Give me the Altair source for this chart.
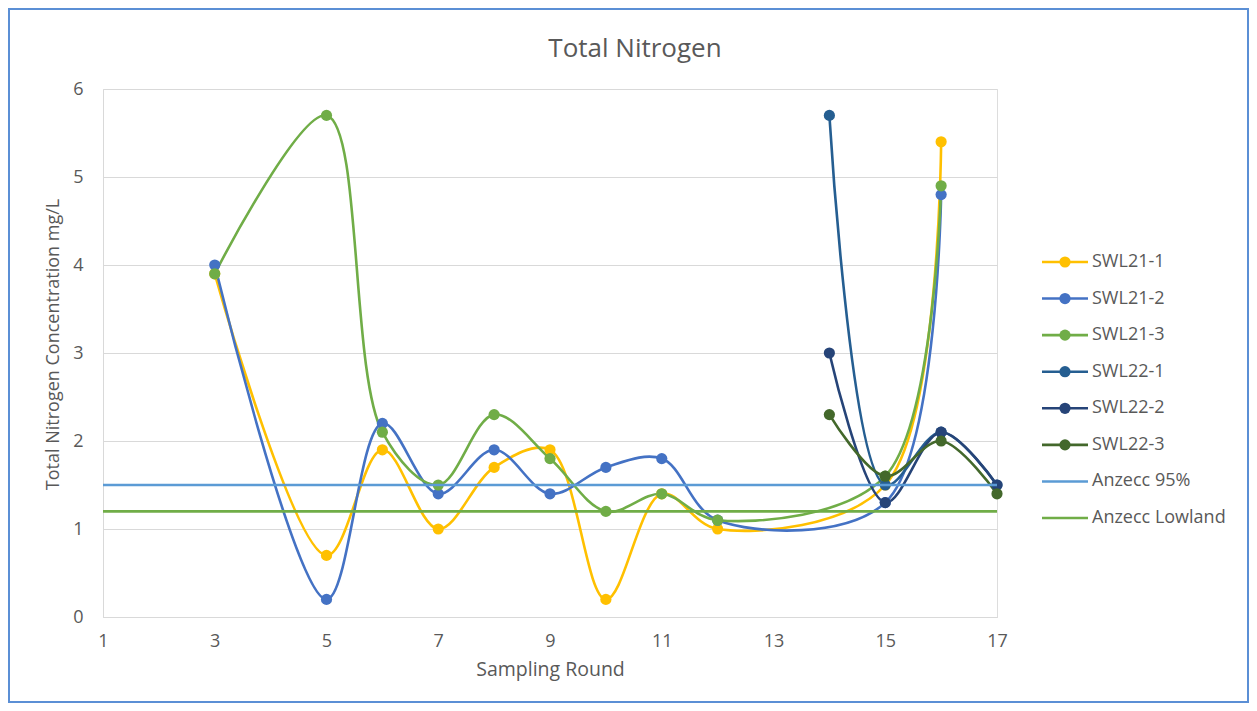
import altair as alt
import pandas as pd

# ---- data ----
chart_title = "Total Nitrogen"
series_names = ["SWL21-1", "SWL21-2", "SWL21-3", "SWL22-1", "SWL22-2", "SWL22-3"]
series_colors = ["#FFC000", "#4472C4", "#70AD47", "#255E91", "#264478", "#43682B"]

swl21_rounds = [3, 5, 6, 7, 8, 9, 10, 11, 12, 15, 16]
swl21_1 = [3.9, 0.7, 1.9, 1.0, 1.7, 1.9, 0.2, 1.4, 1.0, 1.5, 5.4]
swl21_2 = [4.0, 0.2, 2.2, 1.4, 1.9, 1.4, 1.7, 1.8, 1.1, 1.3, 4.8]
swl21_3 = [3.9, 5.7, 2.1, 1.5, 2.3, 1.8, 1.2, 1.4, 1.1, 1.6, 4.9]

swl22_rounds = [14, 15, 16, 17]
swl22_1 = [5.7, 1.5, 2.1, 1.5]
swl22_2 = [3.0, 1.3, 2.1, 1.5]
swl22_3 = [2.3, 1.6, 2.0, 1.4]

guide_names = ["Anzecc 95%", "Anzecc Lowland"]
guide_values = [1.5, 1.2]
guide_colors = ["#5B9BD5", "#70AD47"]
guide_start = [1, 1]
guide_end = [17, 17]

x_ticks = [1, 3, 5, 7, 9, 11, 13, 15, 17]
y_ticks = [0, 1, 2, 3, 4, 5, 6]

# ---- build tables ----
rows = []
for name, rounds, vals in [
    ("SWL21-1", swl21_rounds, swl21_1),
    ("SWL21-2", swl21_rounds, swl21_2),
    ("SWL21-3", swl21_rounds, swl21_3),
    ("SWL22-1", swl22_rounds, swl22_1),
    ("SWL22-2", swl22_rounds, swl22_2),
    ("SWL22-3", swl22_rounds, swl22_3),
]:
    for i, (r, v) in enumerate(zip(rounds, vals)):
        rows.append({"series": name, "round": r, "value": v, "idx": i,
                     "sorder": series_names.index(name)})
df = pd.DataFrame(rows)

gdf = pd.DataFrame({"series": guide_names, "value": guide_values,
                    "x1": guide_start, "x2": guide_end})

all_names = series_names + guide_names
all_colors = series_colors + guide_colors
legend_df = pd.DataFrame({"series": all_names,
                          "hasdot": [True] * 6 + [False] * 2})

W, H = 894, 528
PL, PT = 95, 81
TOTAL_W, TOTAL_H = 1241, 695
PR = TOTAL_W - PL - W
PB = TOTAL_H - PT - H

FONT = "Open Sans"
GREY = "#595959"

color_scale = alt.Scale(domain=all_names, range=all_colors)

xenc = alt.X("round:Q", scale=alt.Scale(domain=[1, 17], nice=False),
             axis=alt.Axis(values=x_ticks, format="d", title="Sampling Round", grid=False,
                           ticks=False, domainColor="#D9D9D9", domainWidth=1,
                           labelFontSize=18, labelColor=GREY, labelPadding=15,
                           labelFont=FONT, titleFont=FONT, titleFontSize=19.5,
                           titleFontWeight="normal", titleColor=GREY,
                           titlePadding=10, labelFlush=False))
yenc = alt.Y("value:Q", scale=alt.Scale(domain=[0, 6], nice=False),
             axis=alt.Axis(values=y_ticks, format="d",
                           title="Total Nitrogen Concentration mg/L",
                           grid=True, gridColor="#D9D9D9", gridWidth=1,
                           ticks=False, domainColor="#D9D9D9", domainWidth=1,
                           labelFontSize=18, labelColor=GREY, labelPadding=20,
                           labelFont=FONT, titleFont=FONT, titleFontSize=18,
                           titleFontWeight="normal", titleColor=GREY,
                           titleX=-50, titleY=255, titleAngle=270,
                           titleBaseline="middle", titleAlign="center"))

lines = alt.Chart(df).mark_line(interpolate="catmull-rom", strokeWidth=2.6).encode(
    x=xenc, y=yenc,
    color=alt.Color("series:N", scale=color_scale, legend=None),
    detail="series:N",
    order="idx:Q",
)

points = alt.Chart(df).mark_point(filled=True, size=125, opacity=1, shape="circle").encode(
    x=alt.X("round:Q"), y=alt.Y("value:Q"),
    color=alt.Color("series:N", scale=color_scale, legend=None),
    order="sorder:Q",
)

guides = alt.Chart(gdf).mark_rule(strokeWidth=2.6).encode(
    x=alt.X("x1:Q"), x2="x2:Q", y=alt.Y("value:Q"),
    color=alt.Color("series:N", scale=color_scale, legend=None),
)

main = alt.layer(lines, points, guides)

# ---- legend ----
leg_y = alt.Y("series:N", scale=alt.Scale(type="point", domain=all_names,
                                          range=[173, 429], padding=0), axis=None)
leg_lines = alt.Chart(legend_df).mark_rule(strokeWidth=2.6).encode(
    x=alt.value(939), x2=alt.value(985), y=leg_y,
    color=alt.Color("series:N", scale=color_scale, legend=None),
)
leg_dots = alt.Chart(legend_df).transform_filter("datum.hasdot").mark_point(
    filled=True, size=125, opacity=1, shape="circle").encode(
    x=alt.value(962), y=leg_y,
    color=alt.Color("series:N", scale=color_scale, legend=None),
)
leg_text = alt.Chart(legend_df).mark_text(align="left", baseline="middle",
                                          fontSize=18, font=FONT, color=GREY).encode(
    x=alt.value(989), y=leg_y, text="series:N",
)
legend = alt.layer(leg_lines, leg_dots, leg_text)

border = alt.Chart(pd.DataFrame({"a": [0]})).mark_rect(
    fill=None, stroke="#5B8FD5", strokeWidth=2).encode(
    x=alt.value(-PL + 1), x2=alt.value(W + PR - 1),
    y=alt.value(-PT + 1), y2=alt.value(H + PB - 1),
)

title = alt.Chart(pd.DataFrame({"t": [chart_title]})).mark_text(
    align="center", baseline="alphabetic", fontSize=26, font=FONT, color=GREY).encode(
    x=alt.value(532), y=alt.value(-32), text="t:N",
)

chart = alt.layer(main, legend, border, title).resolve_scale(y="independent").properties(
    width=W, height=H,
    autosize=alt.AutoSizeParams(type="none"),
    padding={"left": PL, "top": PT, "right": PR, "bottom": PB},
).configure_view(stroke=None).configure(background="white")

chart.save("out.html", embed_options={"renderer": "svg", "actions": False})
